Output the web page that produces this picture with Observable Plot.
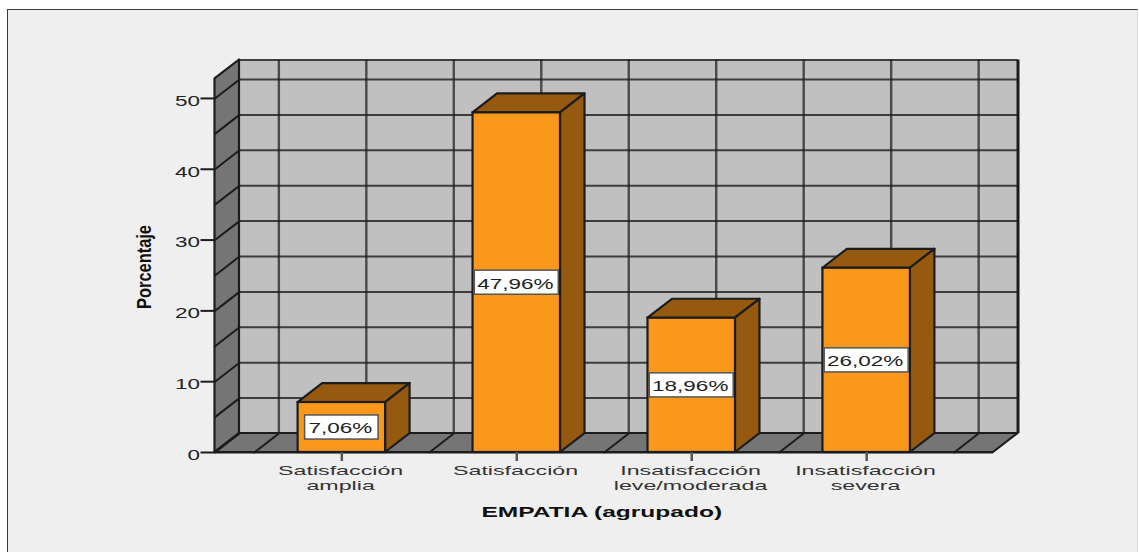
<!DOCTYPE html>
<html>
<head>
<meta charset="utf-8">
<script src="https://cdn.jsdelivr.net/npm/d3@7"></script>
<script src="https://cdn.jsdelivr.net/npm/@observablehq/plot@0.6"></script>
<style>
html,body{margin:0;padding:0;background:#fff;overflow:hidden;width:1139px;height:552px}
#panel{position:absolute;left:7px;top:9px;width:1131px;height:543px;box-sizing:border-box;background:#efefef;border:1.5px solid #3a3a3a;border-right:1.5px solid #dcdcdc;border-bottom:none}
#chart{position:absolute;left:0;top:0}
svg{background:transparent!important;display:block}
</style>
</head>
<body>
<div id="panel"></div>
<div id="chart"></div>
<script>
const categories = ["Satisfacción\namplia", "Satisfacción", "Insatisfacción\nleve/moderada", "Insatisfacción\nsevera"];
const values = [7.06, 47.96, 18.96, 26.02];
const valueLabels = ["7,06%", "47,96%", "18,96%", "26,02%"];
const yTicks = [0, 10, 20, 30, 40, 50];
const gridY = [0, 5, 10, 15, 20, 25, 30, 35, 40, 45, 50];
const gridX = [-0.5, 0, 0.5, 1, 1.5, 2, 2.5, 3, 3.5];

const xMin = -0.725, xFront = 3.725, yFrontTop = 52.75;
const dX = 0.14, dY = 2.68, halfBar = 0.25;
const line = "#1c1c1c";
const wall = "#c0c0c0", shade = "#757575", orange = "#fa981c", orangeDark = "#95590f";

const bars = values.map((v, i) => ({i, v, label: valueLabels[i]}));

const marks = [
  // back wall
  Plot.rect([0], {x1: xMin + dX, x2: xFront + dX, y1: dY, y2: yFrontTop + dY, fill: wall}),
  // horizontal and vertical grid on the back wall
  Plot.ruleY(gridY, {y: d => d + dY, x1: xMin + dX, x2: xFront + dX, stroke: line, strokeWidth: 2, strokeOpacity: 0.8}),
  Plot.ruleX(gridX, {x: d => d + dX, y1: dY, y2: yFrontTop + dY, stroke: line, strokeWidth: 2.4, strokeOpacity: 0.72}),
  // left wall
  Plot.areaY([{x: xMin, a: 0, b: yFrontTop}, {x: xMin + dX, a: dY, b: yFrontTop + dY}],
    {x: "x", y1: "a", y2: "b", fill: shade, stroke: line, strokeWidth: 2.2}),
  // floor
  Plot.areaX([{y: 0, a: xMin, b: xFront}, {y: dY, a: xMin + dX, b: xFront + dX}],
    {y: "y", x1: "a", x2: "b", fill: shade, stroke: line, strokeWidth: 2.2}),
  // diagonals on the left wall and the floor
  ...gridY.map(g => Plot.line([{x: xMin, y: g}, {x: xMin + dX, y: g + dY}], {x: "x", y: "y", stroke: line, strokeWidth: 2})),
  ...gridX.map(g => Plot.line([{x: g, y: 0}, {x: g + dX, y: dY}], {x: "x", y: "y", stroke: line, strokeWidth: 2})),
  // outer back edges
  Plot.ruleX([xFront + dX], {y1: dY, y2: yFrontTop + dY, stroke: line, strokeWidth: 3}),
  Plot.ruleY([yFrontTop + dY], {x1: xMin + dX, x2: xFront + dX, stroke: line, strokeWidth: 2.2, strokeOpacity: 0.8}),
  // bars: top, side, front
  ...bars.flatMap(b => [
    Plot.areaX([{y: b.v, a: b.i - halfBar, c: b.i + halfBar}, {y: b.v + dY, a: b.i - halfBar + dX, c: b.i + halfBar + dX}],
      {y: "y", x1: "a", x2: "c", fill: orangeDark, stroke: line, strokeWidth: 2.2}),
    Plot.areaY([{x: b.i + halfBar, a: 0, c: b.v}, {x: b.i + halfBar + dX, a: dY, c: b.v + dY}],
      {x: "x", y1: "a", y2: "c", fill: orangeDark, stroke: line, strokeWidth: 2.2})
  ]),
  Plot.rect(bars, {x1: d => d.i - halfBar, x2: d => d.i + halfBar, y1: 0, y2: "v", fill: orange, stroke: line, strokeWidth: 2.2}),
  // value labels
  Plot.rect(bars, {
    x1: d => d.i - (d.label.length > 5 ? 0.24 : 0.21),
    x2: d => d.i + (d.label.length > 5 ? 0.24 : 0.21),
    y1: d => d.v / 2 - 1.7, y2: d => d.v / 2 + 1.7,
    fill: "#fff", stroke: "#555", strokeWidth: 1.5
  }),
  Plot.text(bars, {x: "i", y: d => d.v / 2, text: "label", fontSize: 15, fill: "#222", dy: 1, dx: -1.5}),
  // front axis lines
  Plot.ruleY([0], {x1: xMin, x2: xFront, stroke: line, strokeWidth: 2.2}),
  Plot.axisY({ticks: yTicks, tickSize: 14, tickFormat: () => "", label: null, stroke: line, strokeWidth: 2}),
  Plot.axisY({ticks: yTicks, tickSize: 0, tickPadding: 15, dy: 2.5, label: null, fontSize: 15, fill: "#222"}),
  Plot.axisX({ticks: [0, 1, 2, 3], tickSize: 9, tickFormat: () => "", label: null, stroke: "#555", strokeWidth: 2.5}),
  Plot.axisX({ticks: [0, 1, 2, 3], tickSize: 0, tickFormat: i => categories[i], tickPadding: 12, dx: -1.2, label: null,
    fontSize: 13.5, lineHeight: 1.115, fill: "#333", textAnchor: "middle"}),
  // axis titles
  Plot.text(["EMPATIA (agrupado)"], {frameAnchor: "bottom", x: 1.5, dx: -2.5, dy: 60, text: d => d, fontSize: 15, fontWeight: "bold", fill: "#111", lineAnchor: "middle"}),
  Plot.text(["Porcentaje"], {frameAnchor: "left", dx: -70, y: 26.2, text: d => d, rotate: -90, textAnchor: "middle", fontSize: 20, fontWeight: "bold", fill: "#111"})
];

const chart = Plot.plot({
  width: 1139, height: 552,
  marginLeft: 214.5, marginRight: 121.5, marginTop: 59.5, marginBottom: 100,
  style: {fontFamily: "'Liberation Sans', Arial, sans-serif", background: "transparent", overflow: "visible"},
  x: {type: "linear", domain: [xMin, xFront + dX]},
  y: {type: "linear", domain: [0, yFrontTop + dY]},
  marks
});
document.getElementById("chart").appendChild(chart);

// The reference's text is stretched horizontally; reproduce that with textLength.
const stretch = (el, k) => {
  if (!el.textContent) return;
  el.setAttribute("textLength", (el.getComputedTextLength() * k).toFixed(1));
  el.setAttribute("lengthAdjust", "spacingAndGlyphs");
};
d3.select(chart).selectAll("text").each(function () {
  const t = this.textContent;
  const size = parseFloat(getComputedStyle(this).fontSize);
  const k = t === "Porcentaje" ? 0.82 : t.startsWith("EMPATIA") ? 1.635 : size < 14 ? 1.72 : 1.5;
  const spans = this.querySelectorAll("tspan");
  if (spans.length) spans.forEach(s => stretch(s, k)); else stretch(this, k);
});
</script>
</body>
</html>
